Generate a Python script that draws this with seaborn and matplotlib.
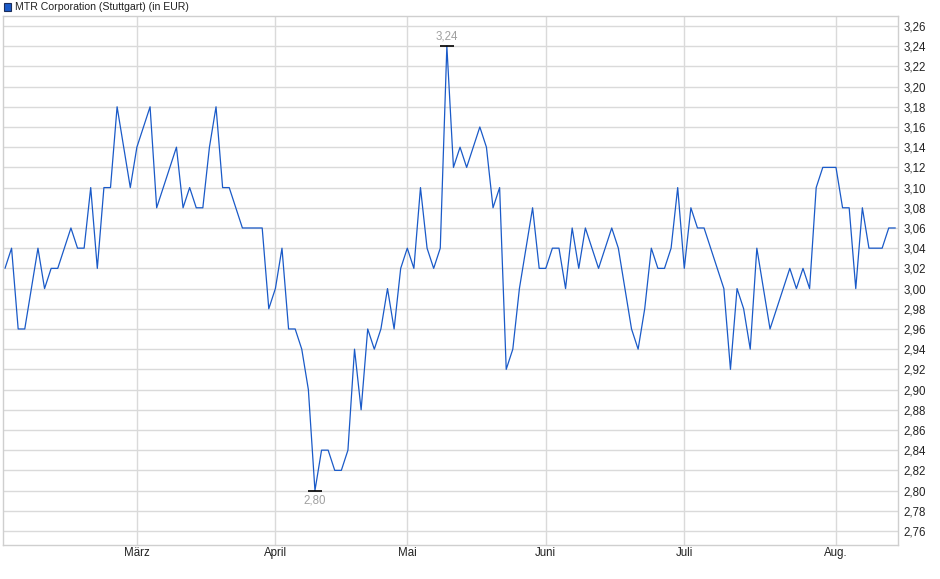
import pandas as pd
import matplotlib.pyplot as plt
import seaborn as sns
from matplotlib.patches import Rectangle
from matplotlib.ticker import MultipleLocator, FuncFormatter

# Schlusskurse MTR Corporation (Stuttgart), in EUR, Feb - Aug 2025
kurse = [3.02, 3.04, 2.96, 2.96, 3.00, 3.04, 3.00, 3.02, 3.02, 3.04,
         3.06, 3.04, 3.04, 3.10, 3.02, 3.10, 3.10, 3.18, 3.14, 3.10,
         3.14, 3.16, 3.18, 3.08, 3.10, 3.12, 3.14, 3.08, 3.10, 3.08,
         3.08, 3.14, 3.18, 3.10, 3.10, 3.08, 3.06, 3.06, 3.06, 3.06,
         2.98, 3.00, 3.04, 2.96, 2.96, 2.94, 2.90, 2.80, 2.84, 2.84,
         2.82, 2.82, 2.84, 2.94, 2.88, 2.96, 2.94, 2.96, 3.00, 2.96,
         3.02, 3.04, 3.02, 3.10, 3.04, 3.02, 3.04, 3.24, 3.12, 3.14,
         3.12, 3.14, 3.16, 3.14, 3.08, 3.10, 2.92, 2.94, 3.00, 3.04,
         3.08, 3.02, 3.02, 3.04, 3.04, 3.00, 3.06, 3.02, 3.06, 3.04,
         3.02, 3.04, 3.06, 3.04, 3.00, 2.96, 2.94, 2.98, 3.04, 3.02,
         3.02, 3.04, 3.10, 3.02, 3.08, 3.06, 3.06, 3.04, 3.02, 3.00,
         2.92, 3.00, 2.98, 2.94, 3.04, 3.00, 2.96, 2.98, 3.00, 3.02,
         3.00, 3.02, 3.00, 3.10, 3.12, 3.12, 3.12, 3.08, 3.08, 3.00,
         3.08, 3.04, 3.04, 3.04, 3.06, 3.06]

# Handelstage (ohne Karfreitag, Ostermontag, 1. Mai)
feiertage = ['2025-04-18', '2025-04-21', '2025-05-01']
tage = pd.bdate_range('2025-02-03', '2025-08-14', freq='C', holidays=feiertage)

monate = {3: 'März', 4: 'April', 5: 'Mai', 6: 'Juni', 7: 'Juli', 8: 'Aug.'}
titel = 'MTR Corporation (Stuttgart) (in EUR)'

df = pd.DataFrame({'tag': range(len(kurse)), 'datum': tage, 'kurs': kurse})

blau = '#1a5ac8'
grau = '#dadada'

sns.set_style('white')
plt.rcParams['font.family'] = ['Liberation Sans', 'DejaVu Sans']

fig = plt.figure(figsize=(9.4, 5.79), dpi=100)
ax = fig.add_axes([3 / 940, 1 - 545.3 / 579, 895.3 / 940, 529.3 / 579])

sns.lineplot(data=df, x='tag', y='kurs', ax=ax, color=blau, lw=0.9)

# Monatsanfang = erster Handelstag im Monat
ersttag = df.groupby(df['datum'].dt.month)['tag'].min()
ersttag = ersttag[ersttag.index.isin(monate.keys())]
ax.set_xticks(ersttag.values)
ax.set_xticklabels([monate[m] for m in ersttag.index])

ax.set_xlim(-0.3, 135.45)
ax.set_ylim(2.7458, 3.2699)
ax.yaxis.set_major_locator(MultipleLocator(0.02))
ax.yaxis.set_major_formatter(FuncFormatter(lambda v, p: f'{v:.2f}'.replace('.', ',')))
ax.yaxis.tick_right()
ax.tick_params(axis='y', length=0, pad=3.5, labelsize=8.3, labelcolor='#222222')
ax.tick_params(axis='x', length=0, pad=1.5, labelsize=8.3, labelcolor='#222222')
ax.set_xlabel('')
ax.set_ylabel('')

ax.grid(True, color=grau, lw=1)
for s in ax.spines.values():
    s.set_color('#cfcfcf')
    s.set_linewidth(1)

# Hoch und Tief markieren
for idx, lage in [(df['kurs'].idxmax(), 'oben'), (df['kurs'].idxmin(), 'unten')]:
    wert = df.loc[idx, 'kurs']
    ax.plot(idx, wert, marker='_', ms=10, mew=1.2, color='black')
    dy = 3 if lage == 'oben' else -2.5
    ax.annotate(f'{wert:.2f}'.replace('.', ','), (idx, wert), xytext=(0, dy),
                textcoords='offset points', ha='center',
                va='bottom' if lage == 'oben' else 'top',
                color='#a0a0a0', fontsize=8.3)

# Legende oben links
fig.add_artist(Rectangle((3.5 / 940, 1 - 10.5 / 579), 7.5 / 940, 7.5 / 579,
                         transform=fig.transFigure, fc=blau, ec='#1c2d5a', lw=0.8))
fig.text(15 / 940, 1 - 7 / 579, titel, va='center', ha='left', fontsize=7.6, color='#222222')

fig.savefig('out.png', dpi=100)
